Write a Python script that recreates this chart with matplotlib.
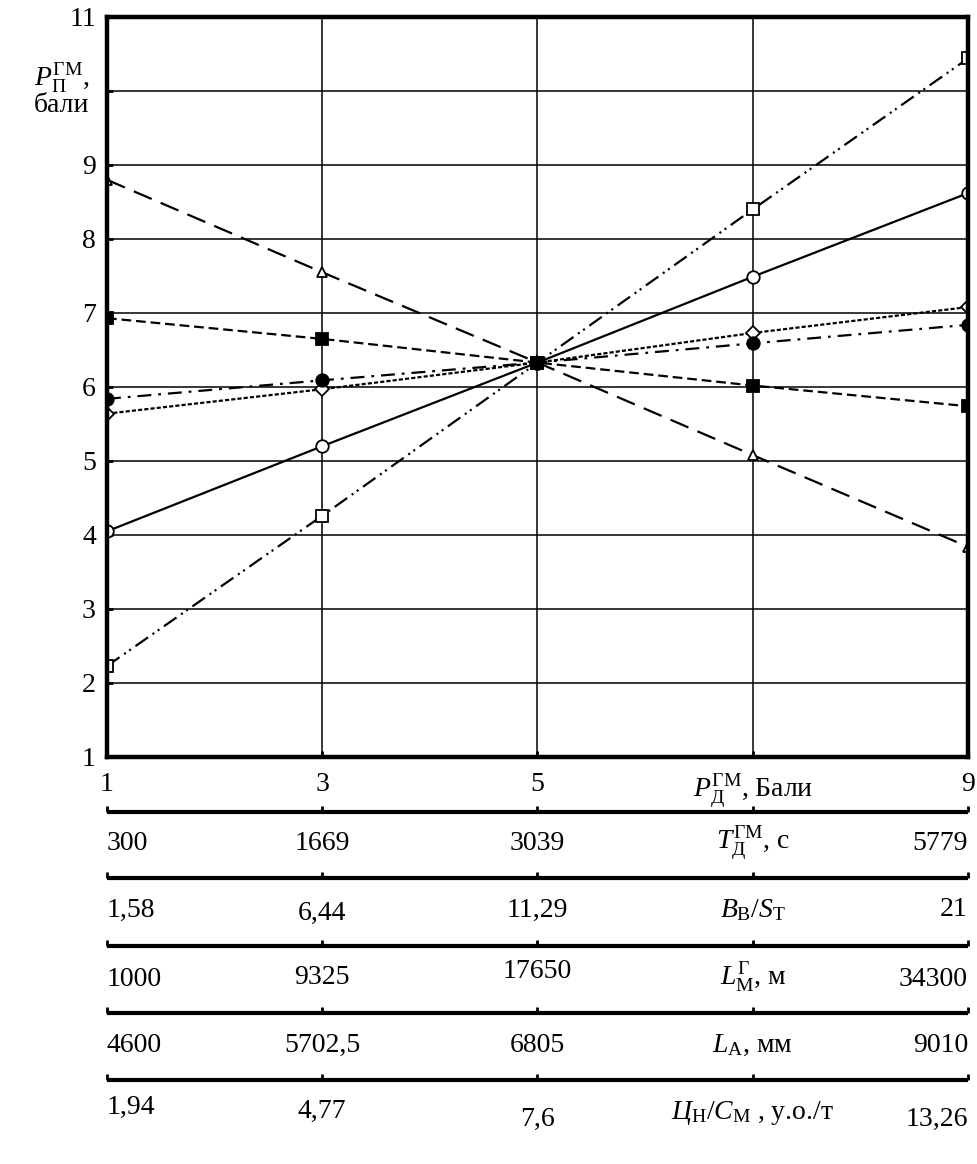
import numpy as np
import matplotlib
matplotlib.use('Agg')
import matplotlib.pyplot as plt

plt.rcParams['font.family'] = ['Liberation Serif', 'DejaVu Serif']
plt.rcParams['mathtext.fontset'] = 'custom'
plt.rcParams['mathtext.rm'] = 'Liberation Serif'
plt.rcParams['mathtext.it'] = 'Liberation Serif:italic'
plt.rcParams['mathtext.bf'] = 'Liberation Serif:bold'
plt.rcParams['lines.scale_dashes'] = False

# Data
x = [1, 3, 5, 7, 9]
y_tri     = [8.80, 7.55, 6.33, 5.08, 3.84]    # long dashes, open triangles
y_sq      = [2.23, 4.26, 6.33, 8.40, 10.44]   # dash-dot-dot, open squares
y_circ    = [4.05, 5.20, 6.33, 7.49, 8.62]    # solid, open circles
y_fsq     = [6.93, 6.65, 6.33, 6.02, 5.74]    # dashed, filled squares
y_fcirc   = [5.84, 6.09, 6.33, 6.59, 6.84]    # dash-dot, filled circles
y_diam    = [5.64, 5.97, 6.33, 6.73, 7.08]    # dotted, open diamonds

xticklabels = ['1', '3', '5', r'$P_{\mathrm{Д}}^{\mathrm{ГМ}}$, Бали', '9']
yticks = list(range(1, 12))
yticklabels = ['1', '2', '3', '4', '5', '6', '7', '8', '9', '', '11']

# extra scales under the chart
row_vals = [
    ['300', '1669', '3039', '5779'],
    ['1,58', '6,44', '11,29', '21'],
    ['1000', '9325', '17650', '34300'],
    ['4600', '5702,5', '6805', '9010'],
    ['1,94', '4,77', '7,6', '13,26'],
]
row_names = [
    r'$T_{\mathrm{Д}}^{\mathrm{ГМ}}$, с',
    r'$B_{\mathrm{В}}/S_{\mathrm{Т}}$',
    r'$L_{\mathrm{М}}^{\mathrm{Г}}$, м',
    r'$L_{\mathrm{А}}$, мм',
    r'$Ц_{\mathrm{Н}}/С_{\mathrm{М}}$ , у.о./т',
]

FS = 20
W, H = 978, 1164
fig = plt.figure(figsize=(W / 100, H / 100), dpi=100)
left, right, top, bot = 107, 968, 17, 757
ax = fig.add_axes([left / W, 1 - bot / H, (right - left) / W, (bot - top) / H])

ms = 9
common = dict(color='black', lw=1.6, markeredgecolor='black', markeredgewidth=1.3)
ax.plot(x, y_tri, marker='^', ms=7.5, mfc='white', dashes=(14, 7), **common)
ax.plot(x, y_sq, marker='s', ms=ms, mfc='white', dashes=(11, 4, 1.5, 3, 1.5, 4), **common)
ax.plot(x, y_circ, marker='o', ms=ms, mfc='white', ls='-', **common)
ax.plot(x, y_diam, marker='D', ms=7.5, mfc='white', dashes=(3, 1.5), **common)
ax.plot(x, y_fcirc, marker='o', ms=ms, mfc='black', dashes=(10, 5, 2, 5), **common)
ax.plot(x, y_fsq, marker='s', ms=ms, mfc='black', dashes=(7, 3.5), **common)

ax.set_xlim(1, 9)
ax.set_ylim(1, 11)
ax.set_xticks(x)
ax.set_xticklabels(xticklabels)
ax.set_yticks(yticks)
ax.set_yticklabels(yticklabels)
ax.grid(True, color='black', lw=1.1)
ax.set_axisbelow(True)
for s in ax.spines.values():
    s.set_linewidth(3.2)
ax.tick_params(direction='in', length=4, width=2, labelsize=FS)
ax.tick_params(axis='x', pad=11)
ax.tick_params(axis='y', pad=8)

# y axis label in place of the 10 tick
fig.text(62 / W, 1 - 78 / H, r'$P_{\mathrm{П}}^{\mathrm{ГМ}}$,', ha='center', va='center', fontsize=FS)
fig.text(62 / W, 1 - 106 / H, 'бали', ha='center', va='center', fontsize=FS)

# extra scales
ax2 = fig.add_axes([left / W, 0, (right - left) / W, 1 - bot / H])
ax2.set_xlim(1, 9)
ax2.set_ylim(H, bot)
ax2.axis('off')
line_y = [812, 878, 946, 1013, 1080]
text_y = [843, 910, 977, 1045, 1113]
nudge = [[0, 0, 0, 0], [0, 3, 0, 0], [3, 0, -6, 3], [0, 0, 0, 0], [-6, -2, 6, 6]]
for ly, ty, vals, name, nd in zip(line_y, text_y, row_vals, row_names, nudge):
    ax2.plot([1, 9], [ly, ly], color='black', lw=3, solid_capstyle='butt', clip_on=False)
    ax2.vlines(x, ly - 6, ly, color='black', lw=2, clip_on=False)
    ax2.text(1, ty + nd[0], vals[0], ha='left', va='center', fontsize=FS)
    ax2.text(3, ty + nd[1], vals[1], ha='center', va='center', fontsize=FS)
    ax2.text(5, ty + nd[2], vals[2], ha='center', va='center', fontsize=FS)
    ax2.text(7, ty, name, ha='center', va='center', fontsize=FS)
    ax2.text(9, ty + nd[3], vals[3], ha='right', va='center', fontsize=FS)

fig.savefig('out.png', dpi=100)
